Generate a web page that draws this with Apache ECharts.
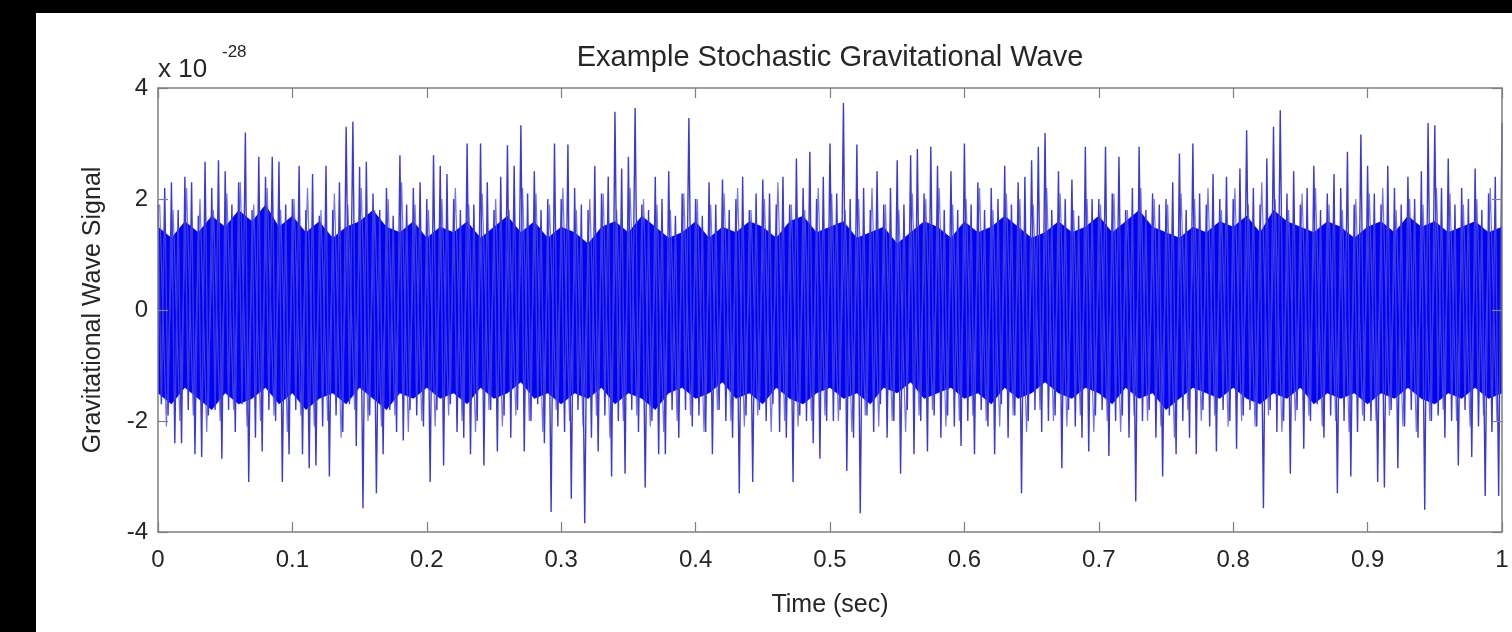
<!DOCTYPE html>
<html>
<head>
<meta charset="utf-8">
<script src="https://cdn.jsdelivr.net/npm/echarts@6/dist/echarts.min.js"></script>
<style>
  html, body { margin: 0; padding: 0; width: 1512px; height: 632px; background: #000; overflow: hidden; }
  #chart { position: absolute; left: 36px; top: 13px; width: 1476px; height: 619px; background: #fff; }
</style>
</head>
<body>
<div id="chart"></div>
<script>
// ---- data ----
const titleText = 'Example Stochastic Gravitational Wave';
const xAxisName = 'Time (sec)';
const yAxisName = 'Gravitational Wave Signal';
const exponentBase = 'x 10';
const exponentPower = '-28';
const xTickLabels = ['0', '0.1', '0.2', '0.3', '0.4', '0.5', '0.6', '0.7', '0.8', '0.9', '1'];
const yTickLabels = ['-4', '-2', '0', '2', '4'];

// sample spacing of the signal peaks (seconds) and peak values (units of 1e-28)
const sampleStep = 0.0025;
const signal = [
  1.9,-1.7,2.2,-1.9,2.3,-2.4,1.8,-2.4,2.4,-1.8,2.3,-2.6,1.7,-2.65,2.67,-1.9,2.2,-1.8,2.7,-2.68,
  2.5,-1.8,1.9,-2.2,2.3,-1.7,3.2,-3.1,1.8,-2.3,2.76,-2.55,2.4,-1.8,2.76,-2.0,2.67,-3.1,1.9,-2.6,
  2.0,-1.8,2.6,-2.6,1.8,-2.85,2.45,-2.8,1.7,-2.1,2.6,-3.0,1.8,-1.9,2.3,-2.2,3.3,-1.7,3.39,-2.45,
  2.58,-3.57,2.67,-1.9,2.1,-3.3,1.8,-2.6,2.2,-1.8,1.7,-2.2,2.79,-2.35,1.9,-1.8,2.2,-1.9,2.3,-2.1,
  2.0,-3.1,2.79,-1.8,2.6,-2.8,2.45,-1.7,2.0,-2.2,1.8,-2.3,3.0,-2.6,1.9,-2.0,3.0,-2.8,2.3,-1.8,
  1.8,-2.55,2.4,-1.9,2.97,-2.3,2.6,-1.8,3.33,-2.55,2.1,-2.0,2.5,-1.7,1.8,-2.4,2.0,-3.64,3.0,-2.1,
  2.0,-2.2,2.98,-3.4,2.2,-1.8,1.9,-3.84,1.8,-2.3,2.6,-2.55,2.1,-1.9,2.4,-3.0,3.57,-2.0,2.55,-2.95,
  2.76,-1.8,3.64,-2.2,1.9,-3.2,1.8,-2.0,2.4,-2.6,2.0,-2.6,2.5,-1.8,1.7,-2.3,2.1,-1.8,3.46,-2.1,
  2.0,-1.9,1.7,-2.2,2.3,-2.6,1.9,-1.8,2.35,-2.0,1.8,-2.3,2.0,-3.3,2.4,-1.9,1.8,-3.1,2.1,-1.8,
  2.35,-2.0,2.1,-1.7,1.9,-2.2,2.4,-2.3,1.9,-3.1,2.73,-1.9,2.2,-2.0,2.85,-2.4,2.0,-2.68,2.4,-2.0,
  3.0,-2.0,2.1,-1.8,3.73,-2.9,2.0,-2.3,2.98,-3.66,2.2,-1.9,1.8,-2.2,2.5,-1.7,1.9,-2.3,2.2,-2.0,
  2.7,-2.95,1.9,-1.8,2.79,-2.6,2.9,-2.0,2.1,-2.55,2.94,-1.9,2.6,-2.3,1.8,-1.9,2.5,-2.1,1.8,-2.45,
  3.0,-2.0,1.9,-2.6,2.3,-1.8,1.8,-2.1,2.2,-2.6,2.0,-1.7,2.6,-2.3,1.9,-1.9,2.3,-3.3,2.4,-2.0,
  2.7,-1.8,2.94,-2.2,3.19,-2.0,1.8,-1.9,2.5,-2.85,2.0,-1.8,2.35,-2.1,1.7,-2.3,2.94,-2.55,2.0,-1.9,
  2.0,-1.8,2.94,-2.63,2.1,-2.0,2.76,-1.9,1.8,-2.3,2.2,-3.45,2.94,-2.0,1.8,-1.8,2.1,-2.3,1.9,-3.0,
  2.0,-1.9,2.3,-2.6,2.82,-2.0,1.8,-2.3,3.0,-2.6,2.1,-1.8,1.9,-2.1,2.45,-2.55,2.0,-1.8,2.4,-2.0,
  2.0,-2.5,2.55,-1.9,3.24,-1.8,2.2,-2.1,1.9,-3.57,2.73,-1.8,3.3,-2.2,3.6,-2.0,2.1,-2.95,2.5,-1.8,
  1.9,-2.5,2.2,-2.0,2.6,-1.7,1.8,-2.3,2.1,-1.9,2.45,-3.3,2.2,-2.0,2.85,-3.0,1.9,-2.2,3.16,-2.0,
  2.6,-2.0,2.1,-3.1,1.9,-3.2,2.6,-1.8,2.2,-2.85,1.9,-2.1,2.4,-1.8,2.0,-2.3,2.5,-3.6,3.37,-2.0,
  3.33,-1.9,2.2,-2.3,2.73,-2.0,1.9,-2.8,2.2,-1.8,2.0,-2.65,2.55,-2.1,1.8,-3.35,2.1,-2.2,2.4,-3.35,
  3.37
];

// lighter in-between strokes of the fringe zone, every 0.005 s starting at 0.00125 s
const fringeStart = 0.00125;
const fringeStep = 0.005;
const fringe = [
  1.9,-2.1,1.8,-2.0,2.2,-1.9,2.0,-2.2,1.8,-2.0,2.1,-1.8,2.3,-2.1,1.9,-2.0,2.2,-1.9,1.8,-2.2,
  2.0,-1.9,2.2,-2.1,1.8,-2.0,2.1,-2.3,1.9,-1.8,2.2,-2.0,1.8,-2.1,2.0,-1.9,2.3,-2.2,1.9,-2.0,
  1.8,-2.1,2.0,-1.9,2.2,-2.0,1.9,-2.2,2.1,-1.8,2.0,-2.1,1.8,-1.9,2.2,-2.0,2.1,-2.2,1.9,-1.8,
  2.2,-2.0,1.8,-2.1,2.0,-1.9,2.1,-2.3,1.8,-2.0,2.2,-1.9,2.0,-2.1,1.9,-2.2,1.8,-2.0,2.1,-1.9,
  2.0,-2.2,1.9,-1.8,2.1,-2.0,2.2,-2.1,1.8,-1.9,2.0,-2.2,2.3,-2.0,1.9,-2.1,1.8,-2.0,2.2,-1.9,
  2.1,-2.0,1.8,-2.2,2.0,-1.9,2.2,-2.1,1.9,-2.0,1.8,-2.2,2.1,-1.9,2.0,-1.8,2.2,-2.1,1.9,-2.0,
  2.0,-1.9,2.2,-2.0,1.8,-2.1,2.1,-1.9,2.0,-2.2,1.9,-1.8,2.2,-2.0,2.1,-2.1,1.8,-1.9,2.0,-2.2,
  1.9,-2.0,2.1,-2.2,1.8,-1.9,2.2,-2.0,2.0,-2.1,1.9,-2.3,2.1,-1.8,2.0,-2.0,2.2,-1.9,1.8,-2.1,
  2.2,-2.0,1.9,-2.1,2.3,-1.9,2.0,-2.2,1.8,-2.0,2.1,-1.9,2.2,-2.1,1.9,-2.0,1.8,-2.2,2.0,-1.9,
  2.1,-2.0,2.2,-1.9,1.8,-2.1,2.0,-2.2,1.9,-2.0,2.2,-1.8,2.1,-2.0,1.9,-2.1,2.0,-1.9,2.2,-2.0
];

// saturated core of the trace (upper / lower edge), every 0.01 s
const coreStep = 0.01;
const coreUpper = [
  1.5,1.3,1.6,1.4,1.7,1.5,1.8,1.6,1.9,1.5,
  1.7,1.4,1.6,1.3,1.5,1.6,1.8,1.5,1.4,1.6,
  1.3,1.5,1.4,1.6,1.3,1.5,1.7,1.4,1.6,1.3,
  1.5,1.4,1.2,1.5,1.6,1.4,1.7,1.5,1.3,1.4,
  1.6,1.3,1.5,1.4,1.6,1.5,1.3,1.6,1.7,1.4,
  1.5,1.6,1.3,1.4,1.5,1.2,1.4,1.6,1.5,1.3,
  1.6,1.4,1.5,1.7,1.5,1.3,1.4,1.6,1.4,1.5,
  1.7,1.4,1.6,1.8,1.5,1.4,1.3,1.5,1.4,1.6,
  1.5,1.7,1.4,1.8,1.6,1.5,1.4,1.6,1.5,1.3,
  1.5,1.6,1.4,1.7,1.5,1.6,1.4,1.5,1.6,1.4,
  1.5
];
const coreLower = [
  -1.5,-1.7,-1.4,-1.6,-1.8,-1.5,-1.7,-1.6,-1.4,-1.7,
  -1.5,-1.8,-1.6,-1.5,-1.7,-1.4,-1.6,-1.8,-1.5,-1.6,
  -1.4,-1.6,-1.5,-1.7,-1.4,-1.6,-1.5,-1.3,-1.6,-1.5,
  -1.7,-1.5,-1.6,-1.4,-1.7,-1.5,-1.6,-1.8,-1.5,-1.4,
  -1.6,-1.5,-1.3,-1.6,-1.5,-1.7,-1.4,-1.6,-1.7,-1.5,
  -1.4,-1.6,-1.5,-1.7,-1.4,-1.5,-1.3,-1.6,-1.5,-1.4,
  -1.6,-1.5,-1.7,-1.4,-1.6,-1.5,-1.3,-1.5,-1.6,-1.4,
  -1.5,-1.7,-1.4,-1.6,-1.5,-1.8,-1.6,-1.4,-1.5,-1.6,
  -1.4,-1.6,-1.7,-1.5,-1.6,-1.4,-1.7,-1.5,-1.6,-1.5,
  -1.7,-1.5,-1.6,-1.4,-1.6,-1.7,-1.5,-1.6,-1.4,-1.6,
  -1.5
];

// ---- chart ----
const FONT = '"Liberation Sans", Arial, Helvetica, sans-serif';
const TEXT = '#262626';
const AXIS = '#7f7f7f';

const signalData = signal.map((v, i) => [+(i * sampleStep).toFixed(5), v]);
const fringeData = fringe.map((v, i) => [+(fringeStart + i * fringeStep).toFixed(5), v]);
const upperData = coreUpper.map((v, i) => [+(i * coreStep).toFixed(4), v]);
const lowerData = coreLower.map((v, i) => [+(i * coreStep).toFixed(4), v]);

const chart = echarts.init(document.getElementById('chart'), null, { renderer: 'canvas' });

const axisCommon = {
  axisLine: { show: true, onZero: false, lineStyle: { color: AXIS, width: 1.5 } },
  axisTick: { show: true, inside: true, length: 10, lineStyle: { color: AXIS, width: 1.2 } },
  splitLine: { show: false },
  z: 5
};

chart.setOption({
  animation: false,
  backgroundColor: '#fff',
  title: {
    text: titleText,
    left: 794,
    top: 30,
    textAlign: 'center',
    padding: 0,
    textStyle: { fontFamily: FONT, fontSize: 29, fontWeight: 'normal', color: TEXT }
  },
  grid: { left: 122, right: 10, top: 75, bottom: 100, containLabel: false },
  xAxis: [
    Object.assign({}, axisCommon, {
      type: 'value', min: 0, max: 1, interval: 0.1, position: 'bottom',
      name: xAxisName, nameLocation: 'middle', nameGap: 61,
      nameTextStyle: { fontFamily: FONT, fontSize: 25, color: TEXT },
      axisLabel: {
        margin: 16, fontFamily: FONT, fontSize: 24, color: TEXT,
        formatter: (v) => xTickLabels[Math.round(v / 0.1)]
      }
    }),
    Object.assign({}, axisCommon, {
      type: 'value', min: 0, max: 1, interval: 0.1, position: 'top',
      axisLabel: { show: false }
    })
  ],
  yAxis: [
    Object.assign({}, axisCommon, {
      type: 'value', min: -4, max: 4, interval: 2, position: 'left',
      name: yAxisName, nameLocation: 'middle', nameGap: 52, nameRotate: 90,
      nameTextStyle: { fontFamily: FONT, fontSize: 25, color: TEXT },
      axisLabel: {
        margin: 10, fontFamily: FONT, fontSize: 24, color: TEXT,
        formatter: (v) => yTickLabels[Math.round((v + 4) / 2)]
      }
    }),
    Object.assign({}, axisCommon, {
      type: 'value', min: -4, max: 4, interval: 2, position: 'right',
      axisLabel: { show: false }
    })
  ],
  graphic: [
    {
      type: 'text', x: 122, y: 57, silent: true,
      style: { text: exponentBase, fontFamily: FONT, fontSize: 26, fill: TEXT, align: 'left', verticalAlign: 'middle' }
    },
    {
      type: 'text', x: 186, y: 39, silent: true,
      style: { text: exponentPower, fontFamily: FONT, fontSize: 17, fill: TEXT, align: 'left', verticalAlign: 'middle' }
    }
  ],
  series: [
    {
      name: 'core upper', type: 'line', data: upperData, showSymbol: false, silent: true,
      lineStyle: { width: 0 }, areaStyle: { color: '#0000ff', opacity: 1, origin: 0 }, z: 1
    },
    {
      name: 'core lower', type: 'line', data: lowerData, showSymbol: false, silent: true,
      lineStyle: { width: 0 }, areaStyle: { color: '#0000ff', opacity: 1, origin: 0 }, z: 1
    },
    {
      name: 'fringe', type: 'line', data: fringeData, showSymbol: false, silent: true,
      sampling: null, lineStyle: { color: 'rgba(80,80,240,0.8)', width: 1.2 }, z: 2
    },
    {
      name: 'signal', type: 'line', data: signalData, showSymbol: false, silent: true,
      sampling: null, lineStyle: { color: '#3a3ad0', width: 1.4 }, z: 3
    }
  ]
});
</script>
</body>
</html>
